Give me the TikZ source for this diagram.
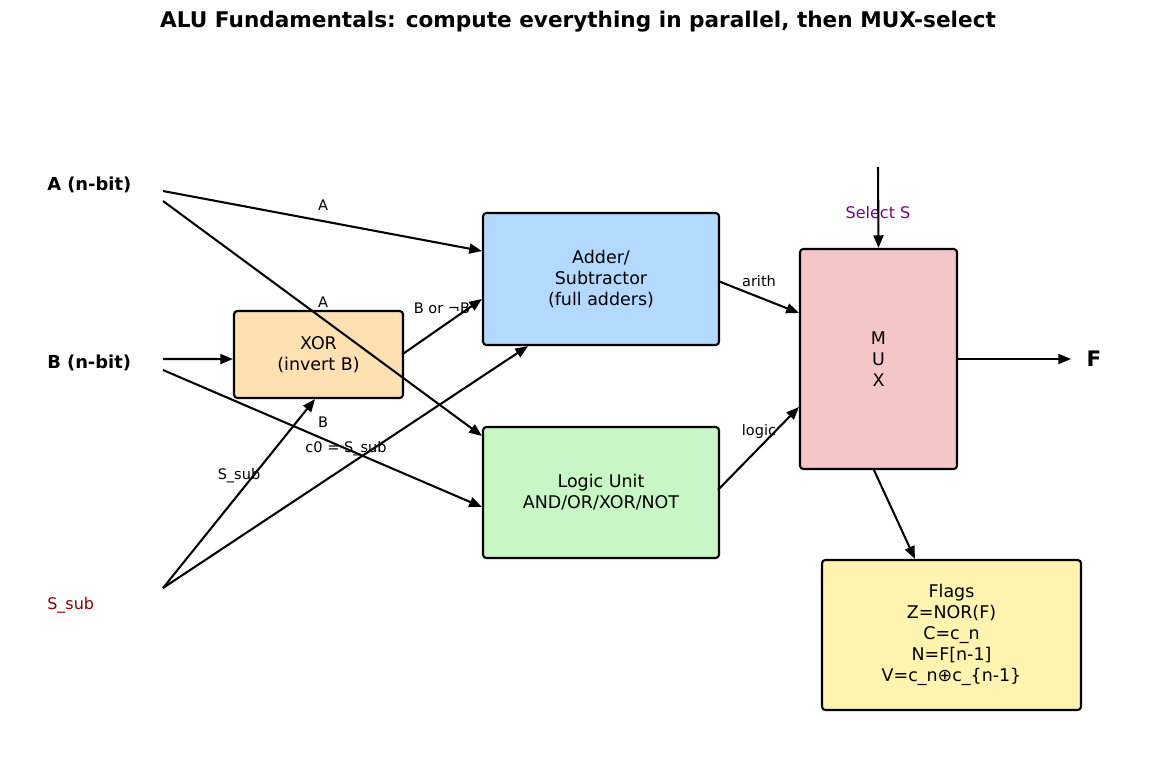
\documentclass[tikz,border=0pt]{standalone}
\usepackage{fontspec}
\setmainfont{DejaVu Sans}
\usetikzlibrary{arrows.meta}
\definecolor{addc}{HTML}{B3D9FF}
\definecolor{logc}{HTML}{C8F7C5}
\definecolor{xorc}{HTML}{FFE0B2}
\definecolor{muxc}{HTML}{F5C6C8}
\definecolor{flgc}{HTML}{FFF3B0}
\definecolor{selc}{HTML}{800080}
\definecolor{subc}{HTML}{8B0000}
\begin{document}
\begin{tikzpicture}[x=0.75pt,y=-0.75pt,
  box/.style={draw, line width=1.6pt, rounded corners=2.5pt, align=center, inner sep=0pt,
    font=\fontsize{13.1}{15.6}\selectfont},
  wire/.style={line width=1.55pt, -{Triangle[length=9.5pt,width=7.5pt]}},
  lbl/.style={font=\fontsize{10.9}{13}\selectfont, inner sep=0pt},
  inlbl/.style={font=\bfseries\fontsize{13.4}{16}\selectfont, anchor=west, inner sep=0pt}]
\useasboundingbox (0,0) rectangle (1156,764);

\node[font=\bfseries\fontsize{16.2}{20}\selectfont] (title) at (578,22) {ALU Fundamentals: compute everything in parallel, then MUX-select};

% boxes
\node[box, fill=addc, minimum width=177pt, minimum height=99pt] (add) at (601,279) {Adder/\\Subtractor\\(full adders)};
\node[box, fill=logc, minimum width=177pt, minimum height=98.25pt] (lu) at (601,492.5) {Logic Unit\\AND/OR/XOR/NOT};
\node[box, fill=xorc, minimum width=126.75pt, minimum height=65.25pt] (xor) at (318.5,354.5) {XOR\\(invert B)};
\node[box, fill=muxc, minimum width=117.75pt, minimum height=165pt] (mux) at (878.5,359) {M\\U\\X};
\node[box, fill=flgc, minimum width=194.25pt, minimum height=112.5pt] (fl) at (951.5,635) {Flags\\Z=NOR(F)\\C=c\_n\\N=F[n-1]\\V=c\_n⊕c\_\{n-1\}};

% input labels
\node[inlbl] (la) at (47,185) {A (n-bit)};
\node[inlbl] (lb) at (47,363) {B (n-bit)};
\node[font=\fontsize{12}{14}\selectfont, text=subc, anchor=west, inner sep=0pt] (ls) at (47,605) {S\_sub};
\node[font=\fontsize{12}{14}\selectfont, text=selc, inner sep=0pt] (lsel) at (878,213) {Select S};
\node[font=\bfseries\fontsize{16}{18}\selectfont, inner sep=0pt] (lf) at (1094,359) {F};

% free ends
\coordinate (a1) at (163,191);
\coordinate (a2) at (163,201);
\coordinate (b1) at (163,359);
\coordinate (b2) at (163,370);
\coordinate (s0) at (163,588);
\coordinate (sel) at (878,167);
\coordinate (fout) at (1071,359);

% connectors
\draw[wire] (a1) -- ([yshift=21pt]add.west);
\draw[wire] (a2) -- ([yshift=-7.5pt]lu.north west);
\draw[wire] (b1) -- ([yshift=-3.4pt]xor.west);
\draw[wire] (b2) -- ([yshift=-10.9pt]lu.west);
\draw[wire] (s0) -- ([xshift=-2.6pt]xor.south);
\draw[wire] (s0) -- ([xshift=-54.75pt]add.south);
\draw[wire] ([xshift=-1.5pt]xor.east) -- ([yshift=-15pt]add.west);
\draw[wire] ([xshift=-1.5pt,yshift=-1.5pt]add.east) -- ([yshift=34.5pt]mux.west);
\draw[wire] ([xshift=-1.5pt,yshift=2pt]lu.east) -- ([yshift=-36pt]mux.west);
\draw[wire] (sel) -- (mux.north);
\draw[wire] ([xshift=-1.5pt]mux.east) -- (fout);
\draw[wire] ([xshift=-3.4pt]mux.south) -- ([xshift=-27.4pt]fl.north);

% connector labels
\node[lbl] (t1) at (323,205) {A};
\node[lbl] (t2) at (323,302) {A};
\node[lbl] (t3) at (442,308) {B or ¬B};
\node[lbl] (t4) at (323,422) {B};
\node[lbl] (t5) at (346,449) {c0 = S\_sub};
\node[lbl] (t6) at (239,476) {S\_sub};
\node[lbl] (t7) at (759,281) {arith};
\node[lbl] (t8) at (759,431) {logic};
\end{tikzpicture}
\end{document}
